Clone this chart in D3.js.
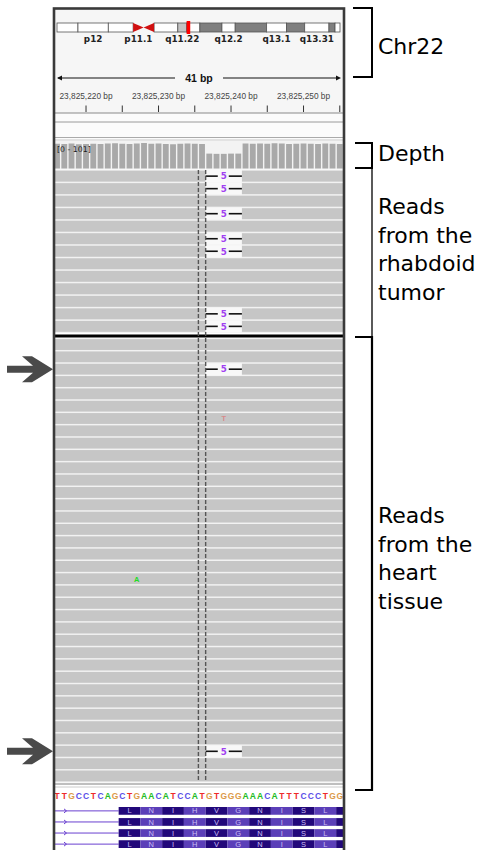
<!DOCTYPE html>
<html><head><meta charset="utf-8">
<script src="https://cdn.jsdelivr.net/npm/d3@7"></script>
<style>html,body{margin:0;padding:0;background:#fff;}svg{display:block;}</style>
</head><body>
<svg id="c" width="482" height="850"></svg>
<script>
// ---------------- data ----------------
const refSeq = "TTGCCTCAGCTGAACATCCATGTGGGAAACATTTCCCTGG".split("");
const viewStart = 23825216;            // genomic position of first visible base
const depthValues = [98,97,99,96,97,98,97,99,100,98,97,99,101,98,99,97,96,98,99,98,
                     97,59,58,58,59,59,99,98,99,98,100,99,97,98,99,98,97,99,98,97];
const depthMax = 101;
const tickPositions = [23825220,23825225,23825230,23825235,23825240,23825245,23825250,23825255];
const tickLabelPositions = [23825220,23825230,23825240,23825250];
const viewWidthLabel = "41 bp";
const centerPos = 23825236;
const delStart = 23825237, delLength = 5;
const tumorRowCount = 13, tumorDelRows = [0,1,3,5,6,11,12];
const heartRowCount = 36, heartDelRows = [2,33];
const mismatches = [{row:6, pos:23825239, base:"T", faded:true},{row:19, pos:23825227, base:"A", faded:false}];
// chr22 cytobands (Mb)
const bandNames  = ["p13","p12","p11.2","p11.1","q11.1","q11.21","q11.22","q11.23","q12.1","q12.2","q12.3","q13.1","q13.2","q13.31","q13.32","q13.33"];
const bandStarts = [0,3.8,9.3,13.8,15.7,17.6,21.9,23.5,25.9,29.9,32.3,38.0,41.6,44.9,49.3,50.4];
const bandEnds   = [3.8,9.3,13.8,15.7,17.6,21.9,23.5,25.9,29.9,32.3,38.0,41.6,44.9,49.3,50.4,51.3];
const bandStains = ["gneg","gneg","gneg","acen","acen","gneg","gpos25","gneg","gpos50","gneg","gpos50","gneg","gpos50","gneg","gpos50","gneg"];
const shownBandLabels = ["p12","p11.1","q11.22","q12.2","q13.1","q13.31"];
const chrLength = 51.3, currentLocusMb = 23.825;
// translation
const cdsStart = 23825225;
const aminoAcids = ["L","N","I","H","V","G","N","I","S","L",""];
const transcriptCount = 4;
// annotations
const sectionLabels = [["Chr22"],["Depth"],["Reads","from the","rhabdoid","tumor"],["Reads","from the","heart","tissue"]];

// ---------------- layout ----------------
const svg = d3.select("#c");
const L = 55, R = 343.4;
const bw = (R - 53.4) / refSeq.length;
const x = d3.scaleLinear().domain([viewStart, viewStart + refSeq.length]).range([53.4, 53.4 + bw*refSeq.length]);
const xc = p => x(p) + bw/2;

// header background
svg.append("rect").attr("x",L).attr("y",9).attr("width",R-L).attr("height",104).attr("fill","#f6f6f6");
svg.append("rect").attr("x",L).attr("y",113).attr("width",R-L).attr("height",27).attr("fill","#fbfbfb");
[[113,"#8a8a8a"],[122,"#9a9a9a"],[137.5,"#aaaaaa"],[140,"#c8c8c8"]].forEach(([yy,c])=>{
  svg.append("line").attr("x1",L).attr("x2",R).attr("y1",yy).attr("y2",yy).attr("stroke",c).attr("stroke-width",1);
});

// ideogram
const xi = d3.scaleLinear().domain([0,chrLength]).range([57,340]);
const ideoTop = 23, ideoH = 9;
const bands = bandNames.map((n,i)=>({name:n,s:bandStarts[i],e:bandEnds[i],stain:bandStains[i]}));
const stainFill = {gneg:"#ffffff",gpos25:"#c4c4c4",gpos50:"#7f7f7f"};
const ideo = svg.append("g");
ideo.selectAll("rect.band").data(bands.filter(b=>b.stain!=="acen")).join("rect")
  .attr("x",d=>xi(d.s)).attr("y",ideoTop).attr("width",d=>xi(d.e)-xi(d.s)).attr("height",ideoH)
  .attr("fill",d=>stainFill[d.stain]).attr("stroke","#555").attr("stroke-width",0.8);
bands.filter(b=>b.stain==="acen").forEach((b,i)=>{
  const x0 = i===0 ? xi(b.s) : xi(b.e), x1 = i===0 ? xi(b.e) : xi(b.s);
  ideo.append("path").attr("d",`M${x0},${ideoTop}L${x1},${ideoTop+ideoH/2}L${x0},${ideoTop+ideoH}Z`).attr("fill","#d01010");
});
ideo.append("rect").attr("x",xi(currentLocusMb)-1.8).attr("y",ideoTop-2).attr("width",3.6).attr("height",ideoH+4).attr("fill","#ff0000");
ideo.selectAll("text").data(bands.filter(b=>shownBandLabels.includes(b.name))).join("text")
  .attr("x",d=>xi((d.s+d.e)/2)).attr("y",42)
  .attr("text-anchor","middle").attr("font-family","DejaVu Sans").attr("font-weight","bold").attr("font-size",8.8).attr("fill","#222")
  .text(d=>d.name);

// ruler
const rulerY = 78;
const rl = svg.append("g");
rl.append("line").attr("x1",58).attr("x2",175).attr("y1",rulerY).attr("y2",rulerY).attr("stroke","#111");
rl.append("line").attr("x1",223).attr("x2",339).attr("y1",rulerY).attr("y2",rulerY).attr("stroke","#111");
rl.append("path").attr("d",`M57,${rulerY}l5,-2.5v5z`).attr("fill","#111");
rl.append("path").attr("d",`M341,${rulerY}l-5,-2.5v5z`).attr("fill","#111");
rl.append("text").attr("x",199).attr("y",rulerY+4).attr("text-anchor","middle").attr("font-family","Liberation Sans")
  .attr("font-weight","bold").attr("font-size",10.5).attr("fill","#111").text(viewWidthLabel);
const fmt = d3.format(",");
rl.selectAll("line.tick").data(tickPositions).join("line").attr("class","tick")
  .attr("x1",d=>Math.min(xc(d),341)).attr("x2",d=>Math.min(xc(d),341)).attr("y1",105.5).attr("y2",112).attr("stroke","#333");
rl.selectAll("text.tl").data(tickLabelPositions).join("text").attr("class","tl")
  .attr("x",d=>xc(d)).attr("y",99).attr("text-anchor","middle").attr("font-family","Liberation Sans")
  .attr("font-size",8.3).attr("fill","#444").text(d=>fmt(d)+" bp");

// depth track
const depthTop = 143, depthBot = 168.5;
const yd = d3.scaleLinear().domain([0,depthMax]).range([depthBot,depthTop]);
svg.append("rect").attr("x",L).attr("y",141).attr("width",R-L).attr("height",28).attr("fill","#f3f3f3");
svg.selectAll("rect.dep").data(depthValues).join("rect").attr("class","dep")
  .attr("x",(d,i)=>Math.max(L,x(viewStart+i)+0.7)).attr("width",(d,i)=>x(viewStart+i+1)-Math.max(L,x(viewStart+i)+0.7)-0.7)
  .attr("y",d=>yd(d)).attr("height",d=>depthBot-yd(d)).attr("fill","#a9a9a9");
svg.append("text").attr("x",57).attr("y",152).attr("font-family","DejaVu Sans").attr("font-size",7.8).attr("fill","#1a1a1a").text("[0 - 101]");

// reads
function drawReads(top, bottom, n, delRows, mm){
  const g = svg.append("g");
  const y = d3.scaleBand().domain(d3.range(n)).range([top,bottom]).paddingInner(0.12).paddingOuter(0.05);
  g.append("rect").attr("x",L).attr("y",top-0.5).attr("width",R-L).attr("height",bottom-top+1).attr("fill","#f2f2f2");
  g.selectAll("rect.read").data(d3.range(n)).join("rect")
    .attr("x",L).attr("width",R-L).attr("y",d=>y(d)).attr("height",y.bandwidth()).attr("fill","#c6c6c6");
  const dx0 = x(delStart), dx1 = x(delStart+delLength), mid=(dx0+dx1)/2;
  const dg = g.selectAll("g.del").data(delRows).join("g");
  dg.append("rect").attr("x",dx0).attr("width",dx1-dx0).attr("y",d=>y(d)-0.6).attr("height",y.bandwidth()+1.2).attr("fill","#f8f8f8");
  dg.append("line").attr("x1",dx0).attr("x2",mid-6).attr("y1",d=>y(d)+y.bandwidth()/2).attr("y2",d=>y(d)+y.bandwidth()/2).attr("stroke","#111").attr("stroke-width",1.6);
  dg.append("line").attr("x1",mid+5).attr("x2",dx1).attr("y1",d=>y(d)+y.bandwidth()/2).attr("y2",d=>y(d)+y.bandwidth()/2).attr("stroke","#111").attr("stroke-width",1.6);
  dg.append("text").attr("x",mid).attr("y",d=>y(d)+y.bandwidth()/2+3.3).attr("text-anchor","middle")
    .attr("font-family","DejaVu Sans").attr("font-weight","bold").attr("font-size",8.8).attr("fill","#a040f0").text(delLength);
  g.selectAll("text.mm").data(mm).join("text").attr("class","mm")
    .attr("x",d=>xc(d.pos)).attr("y",d=>y(d.row)+y.bandwidth()/2+3).attr("text-anchor","middle")
    .attr("font-family","Liberation Sans").attr("font-weight","bold").attr("font-size",7.5)
    .attr("fill",d=>d.faded?"#d88a8a":"#22dd22").text(d=>d.base);
  return y;
}
const tumorTop=170, tumorBot=332.5, heartTop=338.5, heartBot=782;
const yT = drawReads(tumorTop, tumorBot, tumorRowCount, tumorDelRows, []);
const yH = drawReads(heartTop, heartBot, heartRowCount, heartDelRows, mismatches);
svg.append("line").attr("x1",L).attr("x2",R).attr("y1",336).attr("y2",336).attr("stroke","#000").attr("stroke-width",3);

// center dashed lines
[centerPos, centerPos+1].forEach(p=>{
  svg.append("line").attr("x1",x(p)).attr("x2",x(p)).attr("y1",170).attr("y2",782)
    .attr("stroke","#555").attr("stroke-width",1.4).attr("stroke-dasharray","4,2");
});

// sequence track
svg.append("rect").attr("x",L).attr("y",783).attr("width",R-L).attr("height",70).attr("fill","#fff");
svg.append("line").attr("x1",L).attr("x2",R).attr("y1",784).attr("y2",784).attr("stroke","#aaa").attr("stroke-width",1.5);
svg.append("line").attr("x1",L).attr("x2",R).attr("y1",787).attr("y2",787).attr("stroke","#ccc").attr("stroke-width",1);
const baseColor = {A:"#22bb22",C:"#5b4fe8",G:"#dc9a48",T:"#ee2a2a"};
svg.selectAll("text.seq").data(refSeq).join("text").attr("class","seq")
  .attr("x",(d,i)=>xc(viewStart+i)).attr("y",798.5).attr("text-anchor","middle")
  .attr("font-family","Liberation Sans").attr("font-weight","bold").attr("font-size",8.5)
  .attr("fill",d=>baseColor[d]).text(d=>d);

// translation (transcripts)
const yTr = d3.scaleBand().domain(d3.range(transcriptCount)).range([807,848]).paddingInner(0.3);
const codons = aminoAcids.map((aa,i)=>({aa,i,s:cdsStart+i*3}));
for(let t=0;t<transcriptCount;t++){
  const cy = yTr(t)+yTr.bandwidth()/2, h = yTr.bandwidth();
  const tg = svg.append("g");
  tg.append("line").attr("x1",L).attr("x2",x(cdsStart)).attr("y1",cy).attr("y2",cy).attr("stroke","#6a40d0").attr("stroke-width",1);
  tg.append("path").attr("d",`M${L+9},${cy-2}l2.5,2l-2.5,2`).attr("fill","none").attr("stroke","#6a40d0").attr("stroke-width",1);
  tg.selectAll("rect").data(codons).join("rect")
    .attr("x",d=>x(d.s)).attr("width",d=>Math.min(x(d.s+3),R)-x(d.s)).attr("y",cy-h/2).attr("height",h)
    .attr("fill",d=>d.i%2===0?"#22087a":"#5b3fb8");
  tg.selectAll("text").data(codons).join("text")
    .attr("x",d=>x(d.s)+1.5*bw).attr("y",cy+2.6).attr("text-anchor","middle")
    .attr("font-family","Liberation Sans").attr("font-size",7.5).attr("fill","#c9bdf5").text(d=>d.aa);
}

// frame
svg.append("rect").attr("x",54).attr("y",8.5).attr("width",290).attr("height",860).attr("fill","none").attr("stroke","#3a3a3a").attr("stroke-width",2.6);

// arrows pointing at heart reads with deletion
heartDelRows.forEach(r=>{
  const cy = yH(r)+yH.bandwidth()/2;
  const pts = [[7,-3.5],[33,-3.5],[22,-13],[32,-13],[53,0],[32,13],[22,13],[33,3.5],[7,3.5]];
  svg.append("path").attr("d",d3.line()(pts.map(([a,b])=>[a,cy+b]))+"Z").attr("fill","#4a4a4a");
});

// brackets & labels
const bx = 372;
const br = svg.append("g").attr("fill","none").attr("stroke","#000");
br.append("path").attr("d",`M353,8H${bx}V77H353`).attr("stroke-width",2);
br.append("path").attr("d",`M355,143H${bx}V168H355`).attr("stroke-width",2);
br.append("path").attr("d",`M${bx},168V337`).attr("stroke-width",1.3);
br.append("path").attr("d",`M355,337H${bx}V790H355`).attr("stroke-width",2.2);
const labelBaselines = [[54],[161],[214,243,271,300],[523,551.5,580,608.5]];
sectionLabels.forEach((lines,k)=>{
  lines.forEach((t,j)=>{
    svg.append("text").attr("x",378).attr("y",labelBaselines[k][j]).attr("font-family","DejaVu Sans")
      .attr("font-size",22).attr("fill","#000").text(t);
  });
});
</script>
</body></html>
